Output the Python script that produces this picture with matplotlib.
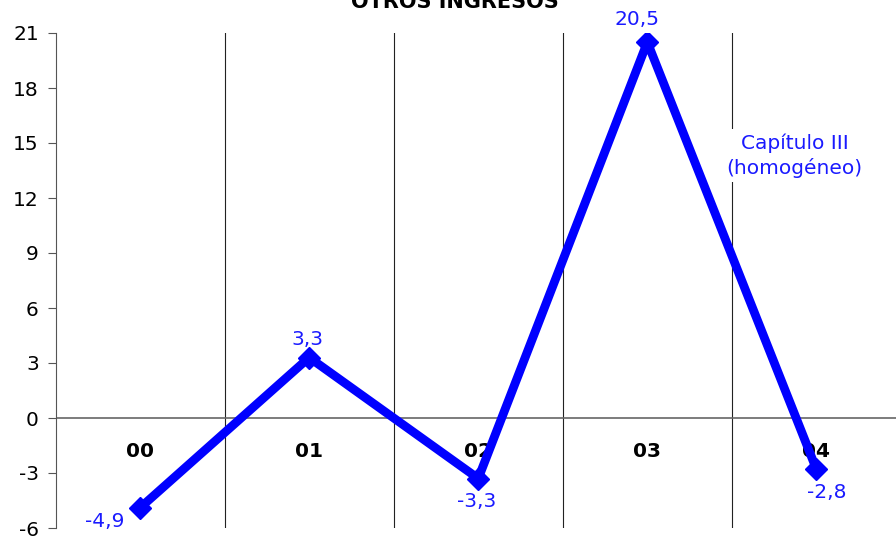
import matplotlib.pyplot as plt

years = ["00", "01", "02", "03", "04"]
values = [-4.9, 3.3, -3.3, 20.5, -2.8]
value_labels = ["-4,9", "3,3", "-3,3", "20,5", "-2,8"]
yticks = [-6, -3, 0, 3, 6, 9, 12, 15, 18, 21]

# label offsets in pixels (dx, dy), screen y up
offsets = [(-35, -14), (-2, 18), (-2, -23), (-10, 23), (10, -23)]

plt.rcParams['font.family'] = ['DejaVu Sans']

fig = plt.figure(figsize=(8.96, 5.37), dpi=100)
ax = fig.add_axes([55.5 / 896, 9 / 537, 845.5 / 896, 495 / 537])

x = list(range(len(years)))
ax.set_xlim(-0.5, len(years) - 0.5)
ax.set_ylim(-6, 21)

for b in [0.5, 1.5, 2.5, 3.5]:
    ax.axvline(b, color="#222222", lw=0.8, zorder=1)
ax.axhline(0, color="#666666", lw=1.2, zorder=1)

ax.plot(x, values, color="#0000ff", lw=6.3, marker="D", markersize=11,
        solid_joinstyle="miter", zorder=3)

for xi, v, lab, (dx, dy) in zip(x, values, value_labels, offsets):
    ax.annotate(lab, (xi, v), xytext=(dx * 0.72, dy * 0.72), textcoords="offset points",
                ha="center", va="center", color="#1a1aff", fontsize=14.5, zorder=4)

for xi, y in zip(x, years):
    ax.text(xi, -1.85, y, ha="center", va="center", fontsize=14.5,
            fontweight="bold", color="black", zorder=2)

ax.text(3.87, 14.3, "Capítulo III\n(homogéneo)", ha="center", va="center",
        color="#1a1aff", fontsize=14.5, linespacing=1.3, zorder=4,
        bbox=dict(facecolor="white", edgecolor="none", pad=3))

ax.set_yticks(yticks)
ax.set_yticklabels([str(t) for t in yticks], fontsize=14.5)
ax.set_xticks([])
for s in ["top", "right", "bottom"]:
    ax.spines[s].set_visible(False)
ax.spines["left"].set_color("#555555")
ax.tick_params(axis="y", direction="out", length=6, color="#555555", pad=6)

fig.text(455 / 896, 1 - 8 / 537, "OTROS INGRESOS", ha="center", va="baseline",
         fontsize=15, fontweight="bold")

fig.savefig("out.png", dpi=100)
